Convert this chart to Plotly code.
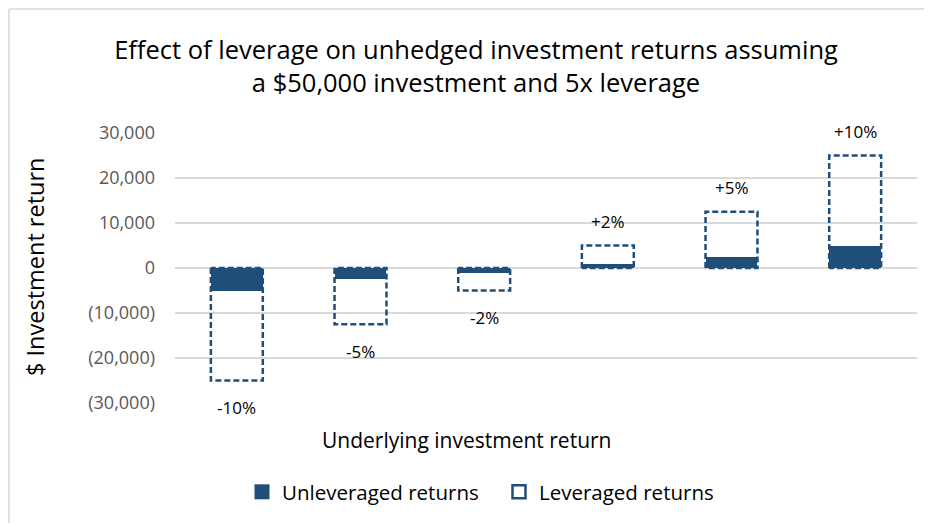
import plotly.graph_objects as go

categories = ["-10%", "-5%", "-2%", "+2%", "+5%", "+10%"]
unleveraged = [-5000, -2500, -1000, 1000, 2500, 5000]
leveraged = [-25000, -12500, -5000, 5000, 12500, 25000]
ytick_vals = [30000, 20000, 10000, 0, -10000, -20000, -30000]
ytick_text = ["30,000", "20,000", "10,000", "0", "(10,000)", "(20,000)", "(30,000)"]

BLUE = "#1F4E79"
FONT = "Open Sans"
bar_w = 0.42
xs = list(range(len(categories)))

W, H = 924, 515
L, T, R, B = 167, 125, 15, 120
PW = W - L - R
PH = H - T - B


def px_to_paper_x(px):
    return (px - L) / PW


def px_to_paper_y(py):
    return (H - B - py) / PH


fig = go.Figure()
fig.add_trace(go.Bar(
    x=xs, y=unleveraged, width=bar_w, name="Unleveraged returns",
    marker=dict(color=BLUE, line=dict(width=0)), showlegend=False, legendgroup="unlev",
))

# Leveraged: dashed outline rectangles built from the data
lx, ly = [], []
for i, v in zip(xs, leveraged):
    lx += [i - bar_w / 2, i - bar_w / 2, i + bar_w / 2, i + bar_w / 2, i - bar_w / 2, None]
    ly += [0, v, v, 0, 0, None]
fig.add_trace(go.Scatter(
    x=lx, y=ly, mode="lines",
    line=dict(color=BLUE, width=2.5, dash="6px,3px"), name="Leveraged returns",
    hoverinfo="skip", showlegend=False, legendgroup="lev",
))
# legend entries
fig.add_trace(go.Scatter(
    x=[None], y=[None], mode="markers", name="Unleveraged returns", legendgroup="unlev",
    marker=dict(symbol="square", size=15, color=BLUE, line=dict(width=0)), legendrank=1,
))
fig.add_trace(go.Scatter(
    x=[None], y=[None], mode="markers", name="Leveraged returns", legendgroup="lev",
    marker=dict(symbol="square-open", size=13, color=BLUE, line=dict(width=2.5, color=BLUE)),
    legendrank=2,
))

for i, (lab, v) in enumerate(zip(categories, leveraged)):
    fig.add_annotation(x=i, y=v, text=lab, showarrow=False,
                       yshift=24 if v > 0 else -27,
                       font=dict(family=FONT, size=17, color="#000000"))

fig.add_annotation(text="Underlying investment return", xref="paper", yref="paper",
                   x=px_to_paper_x(458), y=px_to_paper_y(432), showarrow=False,
                   xanchor="center", yanchor="middle",
                   font=dict(family=FONT, size=21, color="#000000"))
fig.add_annotation(text="$ Investment return", xref="paper", yref="paper",
                   x=px_to_paper_x(27), y=px_to_paper_y(259), showarrow=False, textangle=-90,
                   xanchor="center", yanchor="middle",
                   font=dict(family=FONT, size=23.5, color="#000000"))

# chart border (top and left edges visible)
fig.add_shape(type="line", xref="paper", yref="paper",
              x0=px_to_paper_x(1), x1=px_to_paper_x(W + 5), y0=px_to_paper_y(1), y1=px_to_paper_y(1),
              line=dict(color="#D9D9D9", width=1.5))
fig.add_shape(type="line", xref="paper", yref="paper",
              x0=px_to_paper_x(1), x1=px_to_paper_x(1), y0=px_to_paper_y(1), y1=px_to_paper_y(H + 5),
              line=dict(color="#D9D9D9", width=1.5))

fig.update_layout(
    width=W, height=H,
    margin=dict(l=L, r=R, t=T, b=B),
    paper_bgcolor="white", plot_bgcolor="white",
    title=dict(text="Effect of leverage on unhedged investment returns assuming<br>a $50,000 investment and 5x leverage",
               x=468 / W, xanchor="center", y=(H - 50.5) / H, yanchor="middle",
               font=dict(family=FONT, size=25.5, color="#000000")),
    showlegend=True,
    legend=dict(orientation="h", xref="container", yref="container",
                x=491 / W, xanchor="center", y=(H - 484) / H, yanchor="middle",
                font=dict(family=FONT, size=20.5, color="#000000"), itemsizing="trace",
                entrywidth=212, entrywidthmode="pixels"),
    xaxis=dict(range=[-0.5, 5.5], showticklabels=False, showgrid=False, zeroline=False,
               showline=False, ticks=""),
    yaxis=dict(range=[-30000, 30000], tickvals=ytick_vals, ticktext=ytick_text,
               showgrid=True, gridcolor="#D9D9D9", gridwidth=1.5, zeroline=False,
               tickfont=dict(family=FONT, size=18, color="#595959"), ticks="", ticklabelstandoff=19),
    bargap=0,
)

fig.write_html("out.html")
